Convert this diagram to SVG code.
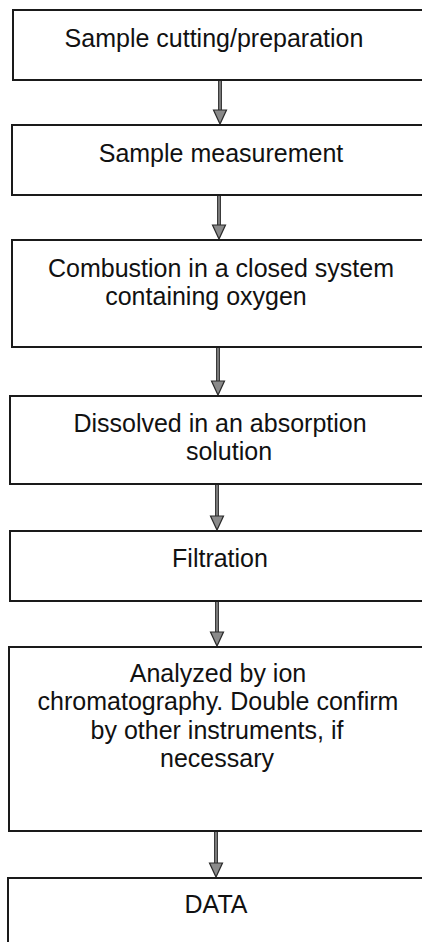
<svg xmlns="http://www.w3.org/2000/svg" width="422" height="942" viewBox="0 0 422 942">
<defs>
<style>
.box{fill:#ffffff;stroke:#1a1a1a;stroke-width:2}
.lbl{font-family:"Liberation Sans",Arial,sans-serif;font-size:25px;fill:#111;text-anchor:middle}
.shaft{stroke:#3a3a3a;stroke-width:4;fill:none}
.core{stroke:#8a8a8a;stroke-width:1.6;fill:none}
.head{fill:#8a8a8a;stroke:#2a2a2a;stroke-width:1.2;stroke-linejoin:miter}
</style>
</defs>
<rect width="422" height="942" fill="#ffffff"/>
<g id="connectors">
<g id="c1"><line class="shaft" x1="220" y1="81" x2="220" y2="112"/><line class="core" x1="220" y1="81" x2="220" y2="112"/><polygon class="head" points="213.5,110 226.5,110 220,124"/></g>
<g id="c2"><line class="shaft" x1="219" y1="196" x2="219" y2="227"/><line class="core" x1="219" y1="196" x2="219" y2="227"/><polygon class="head" points="212.5,225 225.5,225 219,239"/></g>
<g id="c3"><line class="shaft" x1="218" y1="348" x2="218" y2="383"/><line class="core" x1="218" y1="348" x2="218" y2="383"/><polygon class="head" points="211.5,381 224.5,381 218,395"/></g>
<g id="c4"><line class="shaft" x1="217" y1="485" x2="217" y2="518"/><line class="core" x1="217" y1="485" x2="217" y2="518"/><polygon class="head" points="210.5,516 223.5,516 217,530"/></g>
<g id="c5"><line class="shaft" x1="217" y1="602" x2="217" y2="634"/><line class="core" x1="217" y1="602" x2="217" y2="634"/><polygon class="head" points="210.5,632 223.5,632 217,646"/></g>
<g id="c6"><line class="shaft" x1="216" y1="832" x2="216" y2="865"/><line class="core" x1="216" y1="832" x2="216" y2="865"/><polygon class="head" points="209.5,863 222.5,863 216,877"/></g>
</g>
<g id="n1"><rect class="box" x="13" y="10" width="420" height="70"/><text class="lbl" x="214" y="47">Sample cutting/preparation</text></g>
<g id="n2"><rect class="box" x="12" y="125" width="420" height="70"/><text class="lbl" x="221" y="162">Sample measurement</text></g>
<g id="n3"><rect class="box" x="12" y="240" width="420" height="107"/><text class="lbl" x="221" y="277">Combustion in a closed system</text><text class="lbl" x="206" y="305">containing oxygen</text></g>
<g id="n4"><rect class="box" x="10" y="396" width="420" height="88"/><text class="lbl" x="220" y="432">Dissolved in an absorption</text><text class="lbl" x="229" y="460">solution</text></g>
<g id="n5"><rect class="box" x="10" y="531" width="420" height="70"/><text class="lbl" x="220" y="567">Filtration</text></g>
<g id="n6"><rect class="box" x="9" y="647" width="420" height="184"/><text class="lbl" x="218" y="682">Analyzed by ion</text><text class="lbl" x="218" y="710">chromatography. Double confirm</text><text class="lbl" x="217" y="739">by other instruments, if</text><text class="lbl" x="217" y="767">necessary</text></g>
<g id="n7"><rect class="box" x="8" y="878" width="420" height="80"/><text class="lbl" x="216" y="913">DATA</text></g>
</svg>
